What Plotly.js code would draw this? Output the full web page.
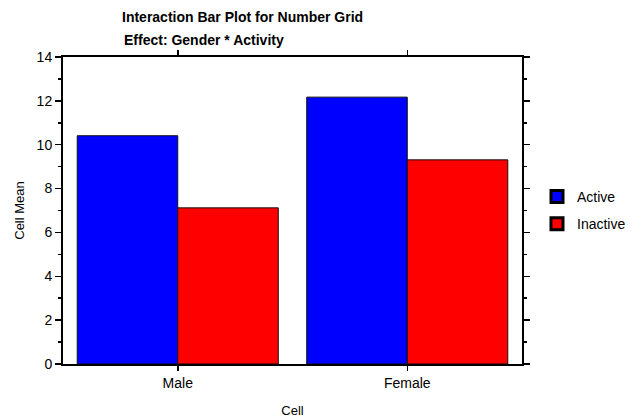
<!DOCTYPE html>
<html>
<head>
<meta charset="utf-8">
<script src="https://cdn.plot.ly/plotly-3.0.1.min.js"></script>
<style>html,body{margin:0;padding:0;background:#fff;}#chart{width:642px;height:419px;}</style>
</head>
<body>
<div id="chart"></div>
<script>
const categories = ["Male", "Female"];
const activeMeans = [10.41, 12.17];
const inactiveMeans = [7.12, 9.31];
const seriesNames = ["Active", "Inactive"];
const seriesColors = ["#0000FF", "#FF0000"];
const yTickVals = [0, 2, 4, 6, 8, 10, 12, 14];

const font = "Liberation Sans, Arial, sans-serif";

const traces = [
  {type: "bar", name: seriesNames[0], x: categories, y: activeMeans, showlegend: false,
   marker: {color: seriesColors[0], line: {color: "#111", width: 1}}},
  {type: "bar", name: seriesNames[1], x: categories, y: inactiveMeans, showlegend: false,
   marker: {color: seriesColors[1], line: {color: "#111", width: 1}}},
  // legend entries (thicker outline like the reference legend); drawn on a hidden overlay axis out of view
  {type: "bar", name: seriesNames[0], x: categories, y: activeMeans, xaxis: "x2", yaxis: "y2", legendgroup: "a",
   marker: {color: seriesColors[0], line: {color: "#000", width: 3}}},
  {type: "bar", name: seriesNames[1], x: categories, y: inactiveMeans, xaxis: "x2", yaxis: "y2", legendgroup: "b",
   marker: {color: seriesColors[1], line: {color: "#000", width: 3}}}
];

const layout = {
  width: 642, height: 419,
  margin: {l: 63, r: 119, t: 57, b: 55},
  paper_bgcolor: "#fff", plot_bgcolor: "#fff",
  font: {family: font, size: 14, color: "#000"},
  barmode: "group", bargap: 0.124, bargroupgap: 0,
  title: {text: "<b>Interaction Bar Plot for Number Grid</b>", x: 122/642, xanchor: "left",
          y: 1 - 17/419, yanchor: "middle", font: {family: font, size: 14, color: "#000"}},
  annotations: [{text: "<b>Effect: Gender * Activity</b>", xref: "paper", yref: "paper",
    x: (122-63)/460, xanchor: "left", y: 1 + (57-40)/307, yanchor: "middle", showarrow: false,
    font: {family: font, size: 14, color: "#000"}}],
  xaxis: {type: "category", range: [-0.5, 1.5], showline: true, linecolor: "#000", linewidth: 2,
          mirror: "allticks", ticks: "outside", ticklen: 5, tickwidth: 1.5, tickcolor: "#000", showgrid: false,
          zeroline: false, tickfont: {size: 14},
          title: {text: "Cell", font: {size: 13}, standoff: 16}},
  yaxis: {range: [0, 14], tickvals: yTickVals, showline: true, linecolor: "#000", linewidth: 2,
          mirror: "allticks", ticks: "outside", ticklen: 6, tickwidth: 1.5, tickcolor: "#000", showgrid: false,
          zeroline: false, tickfont: {size: 14},
          minor: {dtick: 1, ticks: "outside", ticklen: 3, tickwidth: 1.5, tickcolor: "#000", showgrid: false},
          title: {text: "Cell Mean", font: {size: 13}, standoff: 9}},
  xaxis2: {type: "category", overlaying: "x", visible: false, range: [-0.5, 1.5]},
  yaxis2: {overlaying: "y", visible: false, range: [-200, -100]},
  legend: {x: (537-63)/460, xanchor: "left", y: 0.5, yanchor: "middle", traceorder: "grouped",
           tracegroupgap: 6, font: {size: 14}, bgcolor: "rgba(0,0,0,0)"},
  showlegend: true
};

Plotly.newPlot("chart", traces, layout, {displayModeBar: false, staticPlot: true});
</script>
</body>
</html>
